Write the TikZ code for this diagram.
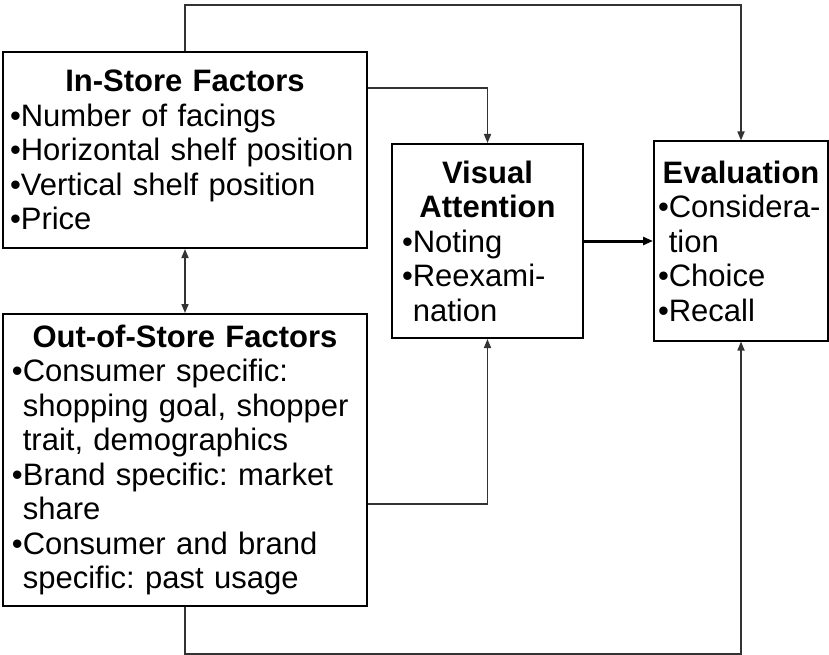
\documentclass[tikz,border=0pt]{standalone}
\usepackage{fontspec}
\setmainfont{Liberation Sans}
\usetikzlibrary{arrows.meta, positioning}
\newcommand{\ind}{\hphantom{•}}
\frenchspacing

\begin{document}
\begin{tikzpicture}[
        x=1pt, y=-1pt,
        node distance=64pt and 69pt,
        factorbox/.style={rectangle, draw=black, line width=2pt, align=left, text width=#1, inner ysep=0pt, font=\fontsize{31}{34.5}\selectfont},
        conn/.style={-{Triangle[length=9pt, width=7pt]}, line width=1.6pt, black!80},
        biconn/.style={{Triangle[length=9pt, width=7pt]}-{Triangle[length=9pt, width=7pt]}, line width=1.6pt, black!80},
        mainarr/.style={-{Triangle[length=10pt, width=8pt]}, line width=3pt, black},
    ]
        \useasboundingbox (0,0) rectangle (829,655);

        % Factors
        \node[factorbox=350pt, inner xsep=7pt, minimum height=196pt] (instore) at (185,150)
            {\centering\textbf{In-Store Factors}\par\raggedright
             •Number of facings\\•Horizontal shelf position\\•Vertical shelf position\\•Price};
        \node[factorbox=346pt, inner xsep=9pt, minimum height=292pt, below=of instore] (outstore)
            {\centering\textbf{Out-of-Store Factors}\par\raggedright
             •Consumer specific:\\\ind shopping goal, shopper\\\ind trait, demographics\\•Brand specific: market\\\ind share\\•Consumer and brand\\\ind specific: past usage};

        % Attention and evaluation
        \node[factorbox=171pt, inner xsep=10pt, minimum height=194pt] (visual) at (487.5,241)
            {\centering\textbf{Visual}\\\textbf{Attention}\par\raggedright
             •Noting\\•Reexami-\\\ind nation};
        \node[factorbox=166pt, inner xsep=4pt, minimum height=199pt, right=of visual] (eval)
            {\centering\textbf{Evaluation}\par\raggedright
             •Considera-\\\ind tion\\•Choice\\•Recall};

        % Arrows
        \draw[biconn] (instore.south) -- (outstore.north);
        \draw[conn] ([yshift=62pt]instore.east) -| (visual.north);
        \draw[conn] ([yshift=-44pt]outstore.east) -| (visual.south);
        \draw[conn] (instore.north) -- ++(0,-46) -| (eval.north);
        \draw[conn] (outstore.south) -- ++(0,47) -| (eval.south);
        \draw[mainarr] (visual.east) -- (eval.west);

    \end{tikzpicture}
\end{document}
